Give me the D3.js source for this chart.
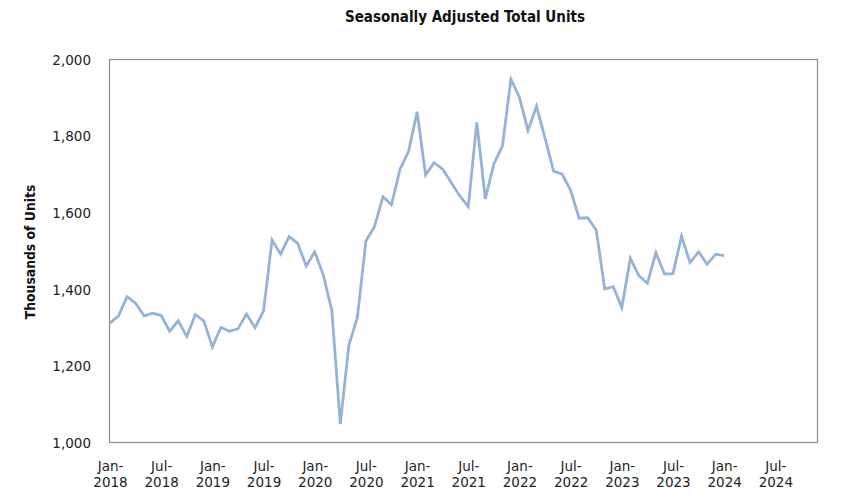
<!DOCTYPE html>
<html>
<head>
<meta charset="utf-8">
<script src="https://cdn.jsdelivr.net/npm/d3@7"></script>
<style>
  body { margin: 0; background: #fff; }
  svg { font-family: "DejaVu Sans", Verdana, sans-serif; }
</style>
</head>
<body>
<svg id="chart" width="841" height="497"></svg>
<script>
// monthly values, Jan-2018 .. Jan-2024 (thousands of units)
var units = [
  1313, 1332, 1382, 1365, 1332, 1339, 1333, 1292, 1319, 1278, 1335, 1319,
  1251, 1302, 1292, 1298, 1337, 1301, 1345, 1530, 1493, 1539, 1521, 1462,
  1499, 1439, 1347, 1050, 1255, 1328, 1527, 1565, 1643, 1622, 1715, 1761,
  1865, 1700, 1732, 1715, 1680, 1645, 1617, 1837, 1637, 1729, 1775, 1950,
  1902, 1816, 1879, 1796, 1710, 1702, 1660, 1587, 1588, 1556, 1402, 1408,
  1354, 1482, 1437, 1417, 1497, 1441, 1442, 1540, 1471, 1499, 1467, 1493,
  1489
];
var xTickLabels = ["Jan-2018", "Jul-2018", "Jan-2019", "Jul-2019", "Jan-2020", "Jul-2020",
  "Jan-2021", "Jul-2021", "Jan-2022", "Jul-2022", "Jan-2023", "Jul-2023", "Jan-2024", "Jul-2024"];
var yTicks = [1000, 1200, 1400, 1600, 1800, 2000];

var margin = {top: 60, right: 23, bottom: 54, left: 110},
    width = 841, height = 497,
    innerW = width - margin.left - margin.right,
    innerH = height - margin.top - margin.bottom;

var svg = d3.select("#chart");

var x = d3.scaleLinear().domain([0, 83]).range([0, innerW]);
var y = d3.scaleLinear().domain([1000, 2000]).range([innerH, 0]);

var vis = svg.append("g")
  .attr("transform", "translate(" + margin.left + "," + margin.top + ")");

// frame
vis.append("rect")
  .attr("x", -0.5).attr("y", -0.5)
  .attr("width", innerW).attr("height", innerH)
  .attr("fill", "none")
  .attr("stroke", "#8c8c8c")
  .attr("stroke-width", 1.2);

// y axis labels
var yAxis = d3.axisLeft(y).tickValues(yTicks).tickFormat(d3.format(",")).tickSize(0).tickPadding(19);
vis.append("g").call(yAxis)
  .call(function(g) { g.select(".domain").remove(); })
  .selectAll("text")
  .attr("font-size", 13.5)
  .attr("font-family", "DejaVu Sans, Verdana, sans-serif")
  .attr("fill", "#222");

// x axis labels, two lines each
var xAxis = d3.axisBottom(x).tickValues(d3.range(0, 84, 6)).tickSize(0).tickFormat("");
var xg = vis.append("g").attr("transform", "translate(0," + innerH + ")").call(xAxis);
xg.select(".domain").remove();
xg.selectAll(".tick").each(function(d, i) {
  var parts = xTickLabels[i].split("-");
  var t = d3.select(this).append("text")
    .attr("fill", "#222")
    .attr("font-size", 13.5)
    .attr("font-family", "DejaVu Sans, Verdana, sans-serif")
    .attr("text-anchor", "middle");
  t.append("tspan").attr("x", 0).attr("y", 28).text(parts[0] + "-");
  t.append("tspan").attr("x", 0).attr("y", 44).text(parts[1]);
});

// line
var line = d3.line()
  .x(function(d, i) { return x(i); })
  .y(function(d) { return y(d); });

vis.append("path")
  .datum(units)
  .attr("fill", "none")
  .attr("stroke", "#95b3d7")
  .attr("stroke-width", 2.8)
  .attr("stroke-linejoin", "miter")
  .attr("d", line);

// title
svg.append("text")
  .attr("x", 465)
  .attr("y", 22)
  .attr("text-anchor", "middle")
  .attr("font-family", "DejaVu Sans Condensed, DejaVu Sans, sans-serif")
  .attr("font-weight", "bold")
  .attr("font-size", 15)
  .attr("fill", "#111")
  .text("Seasonally Adjusted Total Units");

// y axis title
svg.append("text")
  .attr("transform", "rotate(-90)")
  .attr("x", -252)
  .attr("y", 35)
  .attr("text-anchor", "middle")
  .attr("font-family", "DejaVu Sans Condensed, DejaVu Sans, sans-serif")
  .attr("font-weight", "bold")
  .attr("font-size", 13.8)
  .attr("fill", "#111")
  .text("Thousands of Units");
</script>
</body>
</html>
